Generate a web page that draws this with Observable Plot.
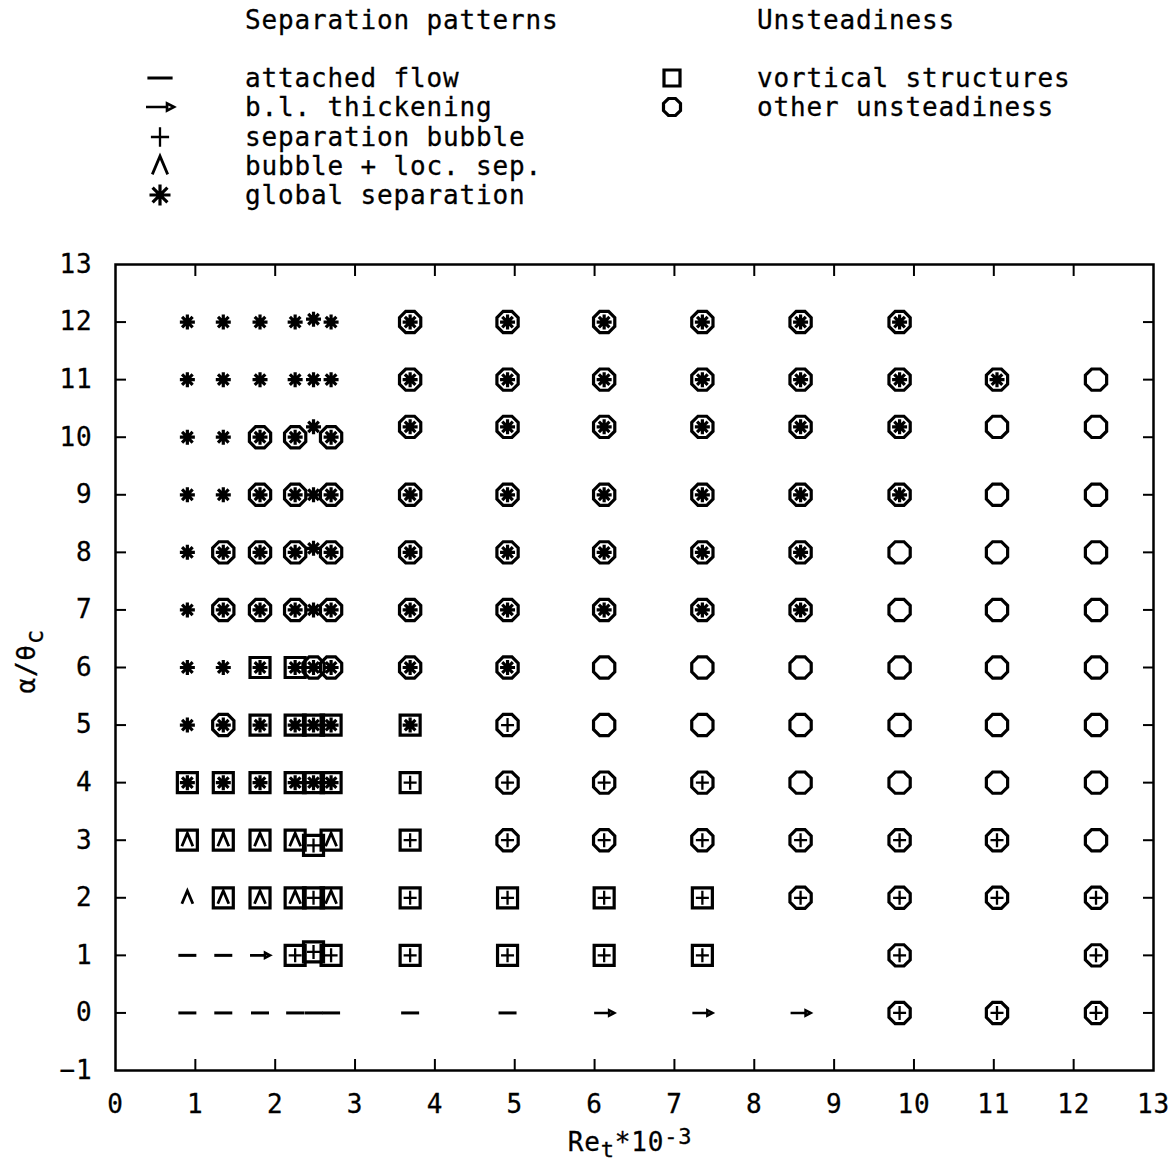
<!DOCTYPE html>
<html><head><meta charset="utf-8">
<script src="https://cdn.jsdelivr.net/npm/d3@7"></script>
<script src="https://cdn.jsdelivr.net/npm/@observablehq/plot@0.6"></script>
<style>
body{margin:0;background:#fff;color:#000;font-family:"DejaVu Sans Mono",monospace;}
#legend{position:relative;width:1174px;height:230px;}
#legend .t{position:absolute;font-size:26px;letter-spacing:0.85px;line-height:1;white-space:nowrap;transform:translateY(-50%);-webkit-text-stroke:0.3px #000;}
#legend svg{position:absolute;overflow:visible;}
</style>
</head><body>
<div id="legend"></div>
<div id="chart"></div>
<script>
// ---------------- data ----------------
const reCols = [0.90, 1.35, 1.81, 2.25, 2.48, 2.70, 3.69, 4.91, 6.12, 7.35, 8.58, 9.82, 11.04, 12.28];
const alphaRows = [12, 11, 10, 9, 8, 7, 6, 5, 4, 3, 2, 1, 0];
// code: pattern char (- attached, > thickening, + bubble, ^ bubble+loc.sep, * global sep) + unsteadiness (s square, o circle)
const row12 = ["*","*","*","*","*","*","*o","*o","*o","*o","*o","*o","",""];
const row11 = ["*","*","*","*","*","*","*o","*o","*o","*o","*o","*o","*o","o"];
const row10 = ["*","*","*o","*o","*","*o","*o","*o","*o","*o","*o","*o","o","o"];
const row9  = ["*","*","*o","*o","*","*o","*o","*o","*o","*o","*o","*o","o","o"];
const row8  = ["*","*o","*o","*o","*","*o","*o","*o","*o","*o","*o","o","o","o"];
const row7  = ["*","*o","*o","*o","*","*o","*o","*o","*o","*o","*o","o","o","o"];
const row6  = ["*","*","*s","*s","*o","*o","*o","*o","o","o","o","o","o","o"];
const row5  = ["*","*o","*s","*s","*s","*s","*s","+o","o","o","o","o","o","o"];
const row4  = ["*s","*s","*s","*s","*s","*s","+s","+o","+o","+o","o","o","o","o"];
const row3  = ["^s","^s","^s","^s","+s","^s","+s","+o","+o","+o","+o","+o","+o","o"];
const row2  = ["^","^s","^s","^s","+s","^s","+s","+s","+s","+s","+o","+o","+o","+o"];
const row1  = ["-","-",">","+s","+s","+s","+s","+s","+s","+s","","+o","","+o"];
const row0  = ["-","-","-","-","-","-","-","-",">",">",">","+o","+o","+o"];
const rows = [row12,row11,row10,row9,row8,row7,row6,row5,row4,row3,row2,row1,row0];
// points drawn slightly off their nominal row in the original
const shifted = [
  {row: 12, col: 4, alpha: 12.05},
  {row: 10, col: 4, alpha: 10.18},
  {row: 10, col: 6, alpha: 10.18},{row: 10, col: 7, alpha: 10.18},{row: 10, col: 8, alpha: 10.18},
  {row: 10, col: 9, alpha: 10.18},{row: 10, col: 10, alpha: 10.18},{row: 10, col: 11, alpha: 10.18},
  {row: 10, col: 12, alpha: 10.18},{row: 10, col: 13, alpha: 10.18},
  {row: 8, col: 4, alpha: 8.07},
  {row: 3, col: 4, alpha: 2.91},
  {row: 1, col: 4, alpha: 1.06}
];
const xLabelTicks = [0,1,2,3,4,5,6,7,8,9,10,11,12,13];
const xMarkTicks = [1,2,3,4,5,6,7,8,9,10,11,12];
const yLabelTicks = [-1,0,1,2,3,4,5,6,7,8,9,10,11,12,13];
const yMarkTicks = [0,1,2,3,4,5,6,7,8,9,10,11,12];
const patternNames = ["attached flow","b.l. thickening","separation bubble","bubble + loc. sep.","global separation"];
const patternCodes = ["-",">","+","^","*"];
const unstNames = ["vortical structures","other unsteadiness"];
const unstCodes = ["s","o"];

// ---------------- symbols ----------------
function mk(fn){ return {draw(ctx, size){ const u = Math.sqrt(size/Math.PI)/10; fn(ctx, u); }}; }
const SYM = {
  "-": mk((c,u)=>{c.moveTo(-9*u,0);c.lineTo(9*u,0);}),
  ">": mk((c,u)=>{c.moveTo(-10*u,0);c.lineTo(6*u,0);c.moveTo(10*u,0);c.lineTo(5*u,-2.6*u);c.lineTo(5*u,2.6*u);c.closePath();}),
  "+": mk((c,u)=>{c.moveTo(-6.5*u,0);c.lineTo(6.5*u,0);c.moveTo(0,-7*u);c.lineTo(0,7*u);}),
  "^": mk((c,u)=>{c.moveTo(-5.5*u,6*u);c.lineTo(0,-7*u);c.lineTo(5.5*u,6*u);}),
  "*": mk((c,u)=>{for(let k=0;k<4;k++){const a=k*Math.PI/4;const dx=Math.cos(a)*7.5*u,dy=Math.sin(a)*7.5*u;c.moveTo(-dx,-dy);c.lineTo(dx,dy);}}),
  "s": mk((c,u)=>{c.moveTo(-10*u,-10*u);c.lineTo(10*u,-10*u);c.lineTo(10*u,10*u);c.lineTo(-10*u,10*u);c.closePath();}),
  "o": mk((c,u)=>{for(let k=0;k<8;k++){const a=Math.PI/8+k*Math.PI/4;const x=Math.cos(a)*11.5*u,y=Math.sin(a)*11.5*u;if(k===0)c.moveTo(x,y);else c.lineTo(x,y);}c.closePath();})
};
const SW = {"-":3,">":2.6,"+":2.3,"^":2.8,"*":3.2,"s":3.2,"o":3.2};

// ---------------- build table ----------------
const points = [];
rows.forEach((r, ri) => {
  const a = alphaRows[ri];
  r.forEach((code, ci) => {
    if (!code) return;
    const sh = shifted.find(s => s.row === a && s.col === ci);
    const alpha = sh ? sh.alpha : a;
    const pat = code.replace(/[so]/g, "");
    const un = code.replace(/[^so]/g, "");
    points.push({re: reCols[ci], alpha, pat, un});
  });
});

const dotMarks = [];
for (const p of patternCodes) {
  dotMarks.push(Plot.dot(points.filter(d => d.pat === p), {x: "re", y: "alpha", symbol: SYM[p], r: 10, fill: "none", stroke: "black", strokeWidth: SW[p]}));
}
for (const q of unstCodes) {
  dotMarks.push(Plot.dot(points.filter(d => d.un === q), {x: "re", y: "alpha", symbol: SYM[q], r: 10, fill: "none", stroke: "black", strokeWidth: SW[q]}));
}

const chart = Plot.plot({
  width: 1174, height: 933,
  marginTop: 34, marginBottom: 93, marginLeft: 115, marginRight: 21,
  x: {domain: [0, 13]},
  y: {domain: [-1, 13]},
  style: {fontFamily: "DejaVu Sans Mono", fontSize: "26px", letterSpacing: "0.8px", color: "black", background: "white", overflow: "visible"},
  marks: [
    Plot.frame({stroke: "black", strokeWidth: 2.5}),
    Plot.axisX({anchor: "bottom", ticks: xLabelTicks, tickSize: 0, tickPadding: 24, tickFormat: d => String(d), label: null, fontSize: 26}),
    Plot.axisX({anchor: "bottom", ticks: xMarkTicks, tickSize: -11, fill: "none", label: null, strokeWidth: 2}),
    Plot.axisX({anchor: "top", ticks: xMarkTicks, tickSize: -11, fill: "none", label: null, strokeWidth: 2}),
    Plot.axisY({anchor: "left", ticks: yLabelTicks, tickSize: 0, tickPadding: 23, label: null, fontSize: 26}),
    Plot.axisY({anchor: "left", ticks: yMarkTicks, tickSize: -11, fill: "none", label: null, strokeWidth: 2}),
    Plot.axisY({anchor: "right", ticks: yMarkTicks, tickSize: -11, fill: "none", label: null, strokeWidth: 2}),
    ...dotMarks
  ]
});
document.getElementById("chart").appendChild(chart);
const svgNode = chart.tagName === "svg" ? chart : chart.querySelector("svg");
svgNode.querySelectorAll("text").forEach(t => { t.style.stroke = "black"; t.style.strokeWidth = "0.3px"; });

// axis titles with sub/superscripts
const svg = d3.select(svgNode);
const xs = chart.scale("x"), ys = chart.scale("y");
const xt = svg.append("text").attr("x", xs.apply(6.45)).attr("y", ys.apply(-1) + 81)
  .attr("text-anchor", "middle").attr("font-size", 26).attr("fill", "black").style("stroke", "black").style("stroke-width", "0.3px");
xt.append("tspan").text("Re");
xt.append("tspan").attr("dy", 6).attr("font-size", 22).text("t");
xt.append("tspan").attr("dy", -6).text("*10");
xt.append("tspan").attr("dy", -7).attr("font-size", 22).text("-3");
const yt = svg.append("text").attr("transform", `translate(${xs.apply(0) - 80},${ys.apply(6.1)}) rotate(-90)`)
  .attr("text-anchor", "middle").attr("font-size", 26).attr("fill", "black").style("stroke", "black").style("stroke-width", "0.3px");
yt.append("tspan").text("α/θ");
yt.append("tspan").attr("dy", 8).attr("font-size", 24).text("c");

// ---------------- legend ----------------
const leg = document.getElementById("legend");
function addText(txt, x, y){ const d = document.createElement("div"); d.className = "t"; d.style.left = x + "px"; d.style.top = y + "px"; d.textContent = txt; leg.appendChild(d); }
function addSym(code, x, y, r){
  const s = d3.create("svg").attr("width", 1).attr("height", 1).style("left", x + "px").style("top", y + "px");
  const p = d3.path(); SYM[code].draw(p, Math.PI * r * r);
  s.append("path").attr("d", p.toString()).attr("fill", "none").attr("stroke", "black").attr("stroke-width", SW[code]);
  leg.appendChild(s.node());
}
addText("Separation patterns", 245, 20);
addText("Unsteadiness", 757, 20);
const legRowsY = [78, 107, 137, 166, 195];
patternNames.forEach((n, i) => { addText(n, 245, legRowsY[i]); addSym(patternCodes[i], 160, legRowsY[i], 14); });
unstNames.forEach((n, i) => { addText(n, 757, legRowsY[i]); addSym(unstCodes[i], 672, legRowsY[i], 8); });
</script>
</body></html>
